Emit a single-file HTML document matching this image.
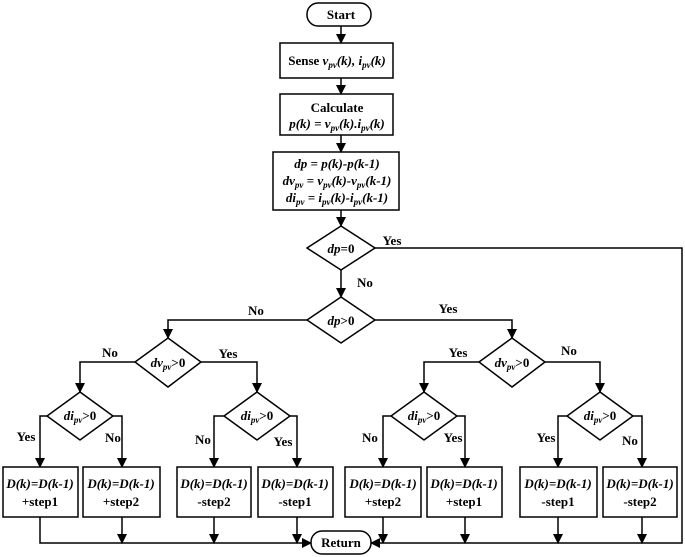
<!DOCTYPE html>
<html><head><style>body{margin:0;background:#fff}svg{display:block}text{font-family:"Liberation Serif",serif;font-weight:bold;font-size:13px;fill:#000}.i{font-style:italic}</style></head><body>
<svg width="685" height="557" viewBox="0 0 685 557" xmlns="http://www.w3.org/2000/svg">
<defs><marker id="a" markerWidth="10" markerHeight="10" refX="9" refY="5" orient="auto" markerUnits="userSpaceOnUse"><path d="M0,0 L10,5 L0,10 z" fill="#000"/></marker></defs>
<g fill="none" stroke="#000" stroke-width="1.5">
<rect x="307" y="3" width="64" height="23" rx="11"/>
<rect x="280" y="43" width="113" height="35"/>
<rect x="280" y="94" width="113" height="41"/>
<rect x="273" y="152" width="126" height="58"/>
<path d="M341,226 L375,248 L341,270 L307,248 z"/>
<path d="M341,297 L375,320 L341,343 L307,320 z"/>
<path d="M168,338 L201,362 L168,387 L135,362 z"/>
<path d="M512,338 L545,362 L512,387 L479,362 z"/>
<path d="M80,392 L113,416 L80,440 L47,416 z"/>
<path d="M257,392 L290,416 L257,440 L224,416 z"/>
<path d="M424,392 L457,416 L424,440 L391,416 z"/>
<path d="M600,392 L633,416 L600,440 L567,416 z"/>
<rect x="3" y="467" width="75" height="50"/>
<rect x="83" y="467" width="77" height="50"/>
<rect x="177" y="467" width="74" height="50"/>
<rect x="258" y="467" width="75" height="50"/>
<rect x="345" y="467" width="76" height="50"/>
<rect x="427" y="467" width="75" height="50"/>
<rect x="520" y="467" width="77" height="50"/>
<rect x="603" y="467" width="74" height="50"/>
<rect x="311" y="531" width="60" height="23" rx="11"/>
<g marker-end="url(#a)">
<path d="M341,26 V43"/><path d="M341,78 V94"/><path d="M341,135 V152"/><path d="M341,210 V226"/><path d="M341,270 V297"/>
<path d="M307,320 H168 V338"/><path d="M375,320 H512 V338"/>
<path d="M135,362 H80 V392"/><path d="M201,362 H257 V392"/>
<path d="M479,362 H424 V392"/><path d="M545,362 H600 V392"/>
<path d="M47,416 H40 V467"/><path d="M113,416 H122 V467"/>
<path d="M224,416 H214 V467"/><path d="M290,416 H297 V467"/>
<path d="M391,416 H383 V467"/><path d="M457,416 H465 V467"/>
<path d="M567,416 H558 V467"/><path d="M633,416 H642 V467"/>
<path d="M122,517 V543"/><path d="M214,517 V543"/><path d="M297,517 V543"/>
<path d="M383,517 V543"/><path d="M465,517 V543"/><path d="M558,517 V543"/><path d="M642,517 V543"/>
<path d="M40,517 V543 H311"/>
<path d="M375,248 H682 V543 H371"/>
</g></g>
<g text-anchor="middle">
<text x="341" y="19">Start</text>
<text x="337" y="65">Sense <tspan class="i">v<tspan font-size="9" dy="3">pv</tspan><tspan dy="-3">(k), i</tspan><tspan font-size="9" dy="3">pv</tspan><tspan dy="-3">(k)</tspan></tspan></text>
<text x="337" y="112">Calculate</text>
<text x="337" y="128" class="i">p(k) = v<tspan font-size="9" dy="3">pv</tspan><tspan dy="-3">(k).i</tspan><tspan font-size="9" dy="3">pv</tspan><tspan dy="-3">(k)</tspan></text>
<text x="337" y="168" class="i">dp = p(k)-p(k-1)</text>
<text x="337" y="185" class="i">dv<tspan font-size="9" dy="3">pv</tspan><tspan dy="-3"> = v</tspan><tspan font-size="9" dy="3">pv</tspan><tspan dy="-3">(k)-v</tspan><tspan font-size="9" dy="3">pv</tspan><tspan dy="-3">(k-1)</tspan></text>
<text x="337" y="202" class="i">di<tspan font-size="9" dy="3">pv</tspan><tspan dy="-3"> = i</tspan><tspan font-size="9" dy="3">pv</tspan><tspan dy="-3">(k)-i</tspan><tspan font-size="9" dy="3">pv</tspan><tspan dy="-3">(k-1)</tspan></text>
<text x="341" y="253" class="i">dp<tspan font-style="normal">=0</tspan></text>
<text x="341" y="325" class="i">dp<tspan font-style="normal">&gt;0</tspan></text>
<g class="i">
<text x="168" y="367">dv<tspan font-size="9" dy="3">pv</tspan><tspan dy="-3" font-style="normal">&gt;0</tspan></text>
<text x="512" y="367">dv<tspan font-size="9" dy="3">pv</tspan><tspan dy="-3" font-style="normal">&gt;0</tspan></text>
<text x="80" y="420">di<tspan font-size="9" dy="3">pv</tspan><tspan dy="-3" font-style="normal">&gt;0</tspan></text>
<text x="257" y="420">di<tspan font-size="9" dy="3">pv</tspan><tspan dy="-3" font-style="normal">&gt;0</tspan></text>
<text x="424" y="420">di<tspan font-size="9" dy="3">pv</tspan><tspan dy="-3" font-style="normal">&gt;0</tspan></text>
<text x="600" y="420">di<tspan font-size="9" dy="3">pv</tspan><tspan dy="-3" font-style="normal">&gt;0</tspan></text>
</g>
<g>
<text x="40" y="488" class="i">D(k)=D(k-1)</text><text x="40" y="506">+step1</text>
<text x="121" y="488" class="i">D(k)=D(k-1)</text><text x="121" y="506">+step2</text>
<text x="214" y="488" class="i">D(k)=D(k-1)</text><text x="214" y="506">-step2</text>
<text x="295" y="488" class="i">D(k)=D(k-1)</text><text x="295" y="506">-step1</text>
<text x="383" y="488" class="i">D(k)=D(k-1)</text><text x="383" y="506">+step2</text>
<text x="464" y="488" class="i">D(k)=D(k-1)</text><text x="464" y="506">+step1</text>
<text x="558" y="488" class="i">D(k)=D(k-1)</text><text x="558" y="506">-step1</text>
<text x="640" y="488" class="i">D(k)=D(k-1)</text><text x="640" y="506">-step2</text>
</g>
<text x="341" y="547">Return</text>
<text x="392" y="245">Yes</text>
<text x="365" y="287">No</text>
<text x="256" y="315">No</text>
<text x="448" y="313">Yes</text>
<text x="110" y="357">No</text>
<text x="228" y="358">Yes</text>
<text x="458" y="357">Yes</text>
<text x="569" y="355">No</text>
<text x="26" y="441">Yes</text>
<text x="113" y="442">No</text>
<text x="203" y="444">No</text>
<text x="283" y="446">Yes</text>
<text x="370" y="442">No</text>
<text x="453" y="442">Yes</text>
<text x="546" y="442">Yes</text>
<text x="630" y="445">No</text>
</g>
</svg>
</body></html>
